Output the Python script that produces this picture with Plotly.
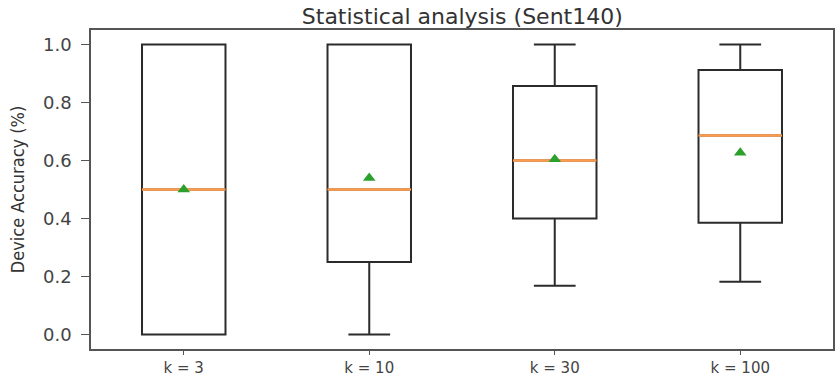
import plotly.graph_objects as go

categories = ["k = 3", "k = 10", "k = 30", "k = 100"]
q1 = [0.0, 0.25, 0.40, 0.385]
median = [0.5, 0.5, 0.60, 0.686]
q3 = [1.0, 1.0, 0.857, 0.912]
lowerfence = [0.0, 0.0, 0.168, 0.182]
upperfence = [1.0, 1.0, 1.0, 1.0]
means = [0.50, 0.54, 0.604, 0.627]
y_ticks = [0.0, 0.2, 0.4, 0.6, 0.8, 1.0]

positions = list(range(1, len(categories) + 1))
box_w = 0.45

fig = go.Figure()
fig.add_trace(go.Box(
    x=positions, q1=q1, median=median, q3=q3,
    lowerfence=lowerfence, upperfence=upperfence,
    width=box_w, whiskerwidth=0.5,
    fillcolor="rgba(0,0,0,0)",
    line=dict(color="#2b2b2b", width=2),
    boxpoints=False, showlegend=False, hoverinfo="skip",
))

mx, my = [], []
for p, m in zip(positions, median):
    mx += [p - box_w / 2, p + box_w / 2, None]
    my += [m, m, None]
fig.add_trace(go.Scatter(x=mx, y=my, mode="lines",
                         line=dict(color="#ff9a4a", width=2.5),
                         showlegend=False, hoverinfo="skip"))

fig.add_trace(go.Scatter(x=positions, y=means, mode="markers",
                         marker=dict(symbol="triangle-up", size=11, color="#2ca02c"),
                         showlegend=False))

fig.update_layout(
    width=836, height=378,
    margin=dict(l=91, r=3, t=30, b=29),
    paper_bgcolor="white", plot_bgcolor="white",
    title=dict(text="Statistical analysis (Sent140)", x=0.553, xanchor="center",
               y=0.957, yanchor="middle",
               font=dict(family="DejaVu Sans", size=22, color="#333333")),
    xaxis=dict(range=[0.5, 4.5], tickvals=positions, ticktext=categories,
               showgrid=False, zeroline=False, automargin=False,
               showline=True, mirror=True, linecolor="#555555", linewidth=1.5,
               ticks="outside", ticklen=4, tickcolor="#555555",
               ticklabelstandoff=0,
               tickfont=dict(family="DejaVu Sans", size=15, color="#444444")),
    yaxis=dict(range=[-0.05, 1.05], tickvals=y_ticks,
               ticktext=[f"{v:.1f}" for v in y_ticks],
               showgrid=False, zeroline=False, automargin=False,
               showline=True, mirror=True, linecolor="#555555", linewidth=1.5,
               ticks="outside", ticklen=8, tickcolor="#555555",
               ticklabelstandoff=6,
               tickfont=dict(family="DejaVu Sans", size=18, color="#444444"),
               title=dict(text="Device Accuracy (%)", standoff=14,
                          font=dict(family="Liberation Sans Narrow, DejaVu Sans Condensed, sans-serif",
                                    size=18, color="#333333"))),
)

fig.write_html("out.html")
